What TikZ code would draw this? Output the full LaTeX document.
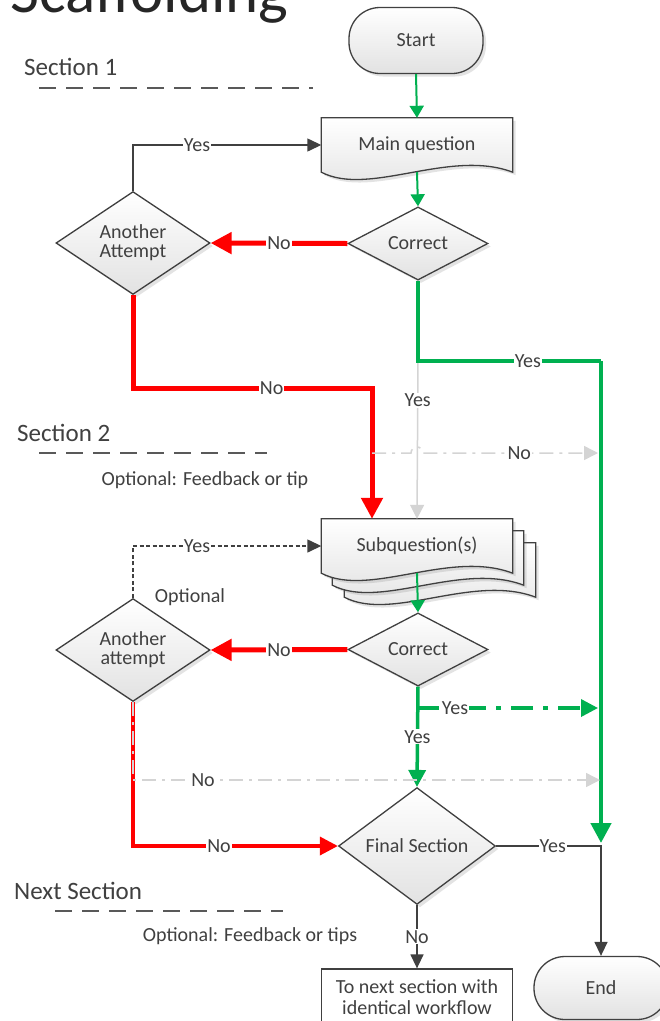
\documentclass[tikz,border=0pt]{standalone}
\usepackage{fontspec}
\setmainfont{Carlito}
\usetikzlibrary{arrows.meta,shapes.geometric,calc,backgrounds,shadows}

\definecolor{txt}{HTML}{404040}
\definecolor{ttl}{HTML}{262626}
\definecolor{ln}{HTML}{404040}
\definecolor{grn}{HTML}{00B050}
\definecolor{rd}{HTML}{FF0000}
\definecolor{lg}{HTML}{D4D4D4}
\definecolor{sect}{HTML}{595959}
\definecolor{shd}{HTML}{E2E2E2}

\tikzset{
  base/.style={font=\fontsize{20}{22}\selectfont, text=txt},
  softshadow/.style={drop shadow={shadow xshift=3pt, shadow yshift=-3pt, opacity=0.18, fill=black!60}},
  shapefill/.style={draw=ln, line width=1.3pt, top color=white, bottom color=shd, softshadow},
  term/.style={base, shapefill, rectangle, rounded corners=31pt,
    minimum width=134pt, minimum height=66pt},
  decision/.style={base, shapefill, diamond, inner sep=0pt, align=center},
  docnode/.style={base, rectangle, minimum width=191pt, minimum height=54pt, inner sep=0pt},
  procbox/.style={base, draw=ln, line width=1.3pt, fill=white, rectangle,
    minimum width=191pt, minimum height=56pt, align=center, inner sep=0pt},
  lbl/.style={base, fill=white, inner sep=1pt},
  note/.style={base},
  sectlbl/.style={font=\fontsize{25}{28}\selectfont, text=txt},
  sectline/.style={draw=sect, line width=2.5pt, dash pattern=on 17pt off 10pt},
  gthin/.style={draw=grn, line width=2pt, -{Triangle[length=12pt,width=14pt]}},
  gthick/.style={draw=grn, line width=4.5pt, -{Triangle[length=20pt,width=20pt]}},
  gmid/.style={draw=grn, line width=3.5pt, -{Triangle[length=17pt,width=17pt]}},
  gdashdot/.style={draw=grn, line width=3.5pt, dash pattern=on 22pt off 10pt on 5pt off 10pt,
    -{Triangle[length=17pt,width=17pt]}},
  rthick/.style={draw=rd, line width=5pt, -{Triangle[length=21pt,width=21pt]}},
  rmid/.style={draw=rd, line width=3.5pt, -{Triangle[length=18pt,width=18pt]}},
  dk/.style={draw=ln, line width=1.4pt, -{Triangle[length=14pt,width=13pt]}},
  dkdash/.style={dk, dash pattern=on 4pt off 2.5pt},
  gy/.style={draw=lg, line width=1.5pt, -{Triangle[length=14pt,width=14pt]}},
  gydashdot/.style={gy, dash pattern=on 14pt off 6pt on 3pt off 6pt},
}

% wavy "document" sheet behind a node, offset by (#2,#3)
\newcommand\docsheet[3]{%
  \path[shapefill]
    ($(#1.north west)+(#2,#3)$) -- ($(#1.north east)+(#2,#3)$)
    -- ($(#1.south east)+(#2,#3)$)
    .. controls ($(#1.south east)+(#2-63,#3-24)$) and ($(#1.south west)+(#2+48,#3+25)$)
    .. ($(#1.south west)+(#2,#3)$) -- cycle;}

\begin{document}
\begin{tikzpicture}[x=1pt,y=-1pt]
\useasboundingbox (0,0) rectangle (660,1021);
\begin{scope}[on background layer]
  \fill[white] (0,0) rectangle (660,1021);
\end{scope}
\clip (0,0) rectangle (660,1021);

% title and section markers
\node[anchor=base west, font=\fontsize{63}{63}\selectfont, text=ttl, inner sep=0pt] (title) at (10,12) {Scaffolding};
\node[sectlbl, anchor=west, inner sep=0pt] (s1) at (24,67) {Section 1};
\draw[sectline] (39,88) -- (313,88);
\node[sectlbl, anchor=west, inner sep=0pt] (s2) at (17,433) {Section 2};
\draw[sectline] (39,453) -- (267,453);
\node[note] (opt1) at (205,480) {Optional: Feedback or tip};
\node[note] (opt2) at (190,597) {Optional};
\node[sectlbl, anchor=west, inner sep=0pt] (s3) at (14,891) {Next Section};
\draw[sectline] (55,911) -- (283,911);
\node[note] (opt3) at (250,936) {Optional: Feedback or tips};

% shapes
\node[term] (start) at (416,40.5) {Start};
\node[docnode] (mq) at (417,145) {\raisebox{3pt}{Main question}};
\node[decision, minimum width=140pt, minimum height=73pt] (c1) at (418,243.5) {Correct};
\node[decision, minimum width=154pt, minimum height=84pt] (a1) at (133,243) {Another\\[-3pt]Attempt};
\node[docnode] (sq) at (417,546) {\raisebox{3pt}{Subquestion(s)}};
\node[decision, minimum width=140pt, minimum height=73pt] (c2) at (418,649.5) {Correct};
\node[decision, minimum width=154pt, minimum height=86pt] (a2) at (133,650) {Another\\[-3pt]attempt};
\node[decision, minimum width=157pt, minimum height=86pt] (fin) at (417,846) {Final Section};
\node[procbox] (nx) at (417,997) {To next section with\\[-1pt]identical workflow};
\node[term, minimum height=63pt] (end) at (601,988) {End};

\begin{scope}[on background layer]
  \docsheet{mq}{0}{0}
  \docsheet{sq}{23}{24}
  \docsheet{sq}{11}{12}
  \docsheet{sq}{0}{0}
\end{scope}

% bend points
\coordinate (r1) at (133,388);
\coordinate (gbend) at (601,361);
\coordinate (gtip) at (601,843);
\coordinate (n1s) at (372,453);
\coordinate (n1e) at (598,453);
\coordinate (y2s) at (417,708);
\coordinate (y2e) at (598,708);
\coordinate (n2e) at (600,780);
\coordinate (ej) at (601,846);

% section 1 flow
\draw[gthin] (start.south) -- (mq.north);
\draw[gthin] (mq.south) -- (c1.north);
\draw[rthick] (c1.west) -- node[lbl]{No} (a1.east);
\draw[dk] (a1.north) |- node[lbl, pos=0.67]{Yes} (mq.west);
\draw[gy] (c1.south |- gbend) -- node[lbl, pos=0.25]{Yes} (sq.north);
\draw[gthick, -] (c1.south) |- node[lbl, pos=0.8]{Yes} (gbend);
\draw[gthick] (gbend) -- (gtip);
\draw[rthick] (a1.south) -- (r1) -| node[lbl, pos=0.29]{No} ([xshift=-45pt]sq.north);
\draw[gydashdot] (n1s) -- (411,453) arc[start angle=180, end angle=0, radius=6pt]
  -- node[lbl, pos=0.55]{No} (n1e);

% section 2 flow
\draw[gthin] (sq.south) -- (c2.north);
\draw[rthick] (c2.west) -- node[lbl]{No} (a2.east);
\draw[dkdash] (a2.north) |- node[lbl, pos=0.67]{Yes} (sq.west);
\draw[gmid] (c2.south) -- node[lbl, pos=0.5]{Yes} (fin.north);
\draw[gdashdot] (y2s) -- node[lbl, pos=0.21]{Yes} (y2e);
\draw[rmid] (a2.south) |- node[lbl, pos=0.71]{No} (fin.west);
\draw[gydashdot] (a2.south) |- node[lbl, pos=0.575]{No} (n2e);

% final decision
\draw[dk] (fin.east) -- node[lbl, pos=0.54]{Yes} (ej) -- (end.north);
\draw[dk] (fin.south) -- node[lbl, pos=0.5]{No} (nx.north);
\end{tikzpicture}
\end{document}
